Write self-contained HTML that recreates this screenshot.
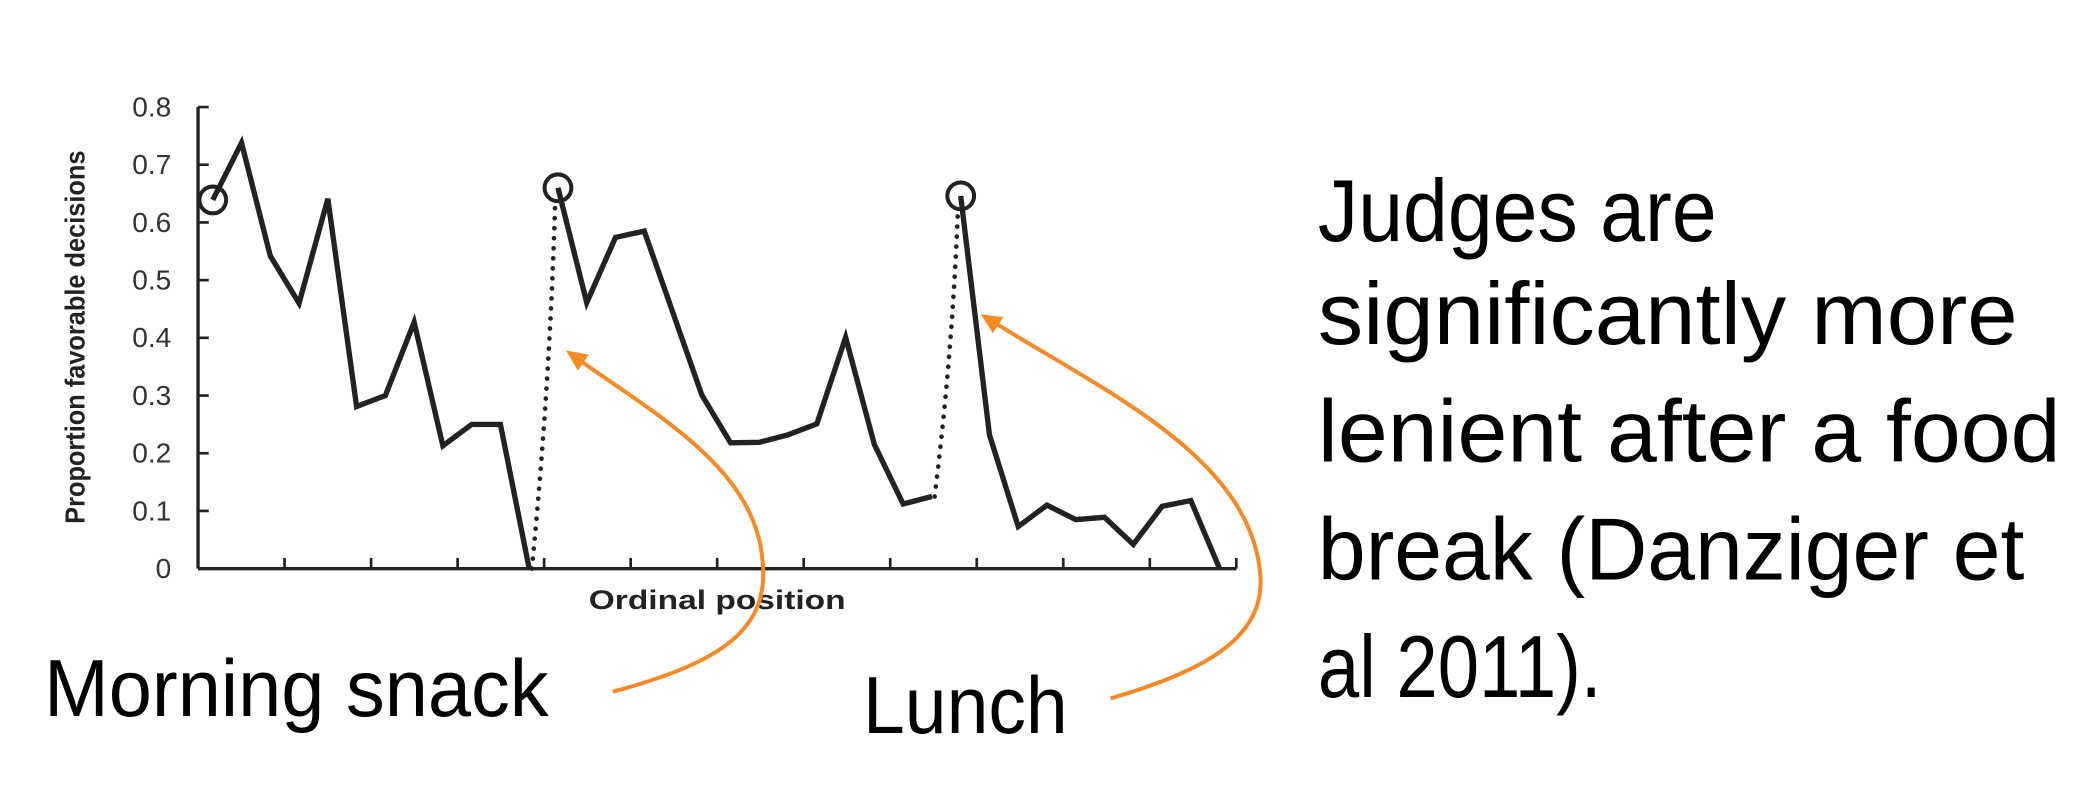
<!DOCTYPE html>
<html><head><meta charset="utf-8"><style>
html,body{margin:0;padding:0;background:#fff;}
svg{display:block;}
</style></head><body>
<svg id="chart" xmlns="http://www.w3.org/2000/svg" width="2098" height="806" viewBox="0 0 1568 602.4">
<rect x="0" y="0" width="1568" height="602.4" fill="#fff"/>
<g id="axes"></g>
<g id="series"></g>
<path d="M458,517 C540,495 575,470 570,420 C565,350 490,310 430,267" fill="none" stroke="#f58a26" stroke-width="3"/>
<polygon points="423,262 440,265 432,277" fill="#f58a26"/>
<path d="M830,522 C905,500 945,475 942,430 C935,340 820,290 740,239" fill="none" stroke="#f58a26" stroke-width="3"/>
<polygon points="733,235 750,237 742,249" fill="#f58a26"/>
<text x="33" y="535" font-family="Liberation Sans, sans-serif" font-size="60" textLength="377" lengthAdjust="spacingAndGlyphs">Morning snack</text>
<text x="645" y="548" font-family="Liberation Sans, sans-serif" font-size="60" textLength="153" lengthAdjust="spacingAndGlyphs">Lunch</text>
<g font-family="Liberation Sans, sans-serif" font-size="66">
<text x="985" y="180" textLength="298" lengthAdjust="spacingAndGlyphs">Judges are</text>
<text x="985" y="257" textLength="523" lengthAdjust="spacingAndGlyphs">significantly more</text>
<text x="985" y="345" textLength="555" lengthAdjust="spacingAndGlyphs">lenient after a food</text>
<text x="985" y="433" textLength="528" lengthAdjust="spacingAndGlyphs">break (Danziger et</text>
<text x="985" y="521" textLength="212" lengthAdjust="spacingAndGlyphs">al 2011).</text>
</g>
</svg>
<script>
const yTicks = [0, 0.1, 0.2, 0.3, 0.4, 0.5, 0.6, 0.7, 0.8];
const yTickLabels = ["0", "0.1", "0.2", "0.3", "0.4", "0.5", "0.6", "0.7", "0.8"];
const xTickCount = 12;
const session1Index = [0,1,2,3,4,5,6,7,8,9,10,11];
const session1Values = [0.639,0.738,0.542,0.46,0.641,0.281,0.30,0.427,0.213,0.25,0.25,0];
const session2Index = [12,13,14,15,16,17,18,19,20,21,22,23,24,25];
const session2Values = [0.66,0.461,0.574,0.585,0.443,0.301,0.218,0.219,0.232,0.251,0.401,0.215,0.112,0.125];
const session3Index = [26,27,28,29,30,31,32,33,34,35];
const session3Values = [0.646,0.232,0.073,0.11,0.085,0.089,0.042,0.108,0.118,0];

const NS = "http://www.w3.org/2000/svg";
const X0 = 148, XEND = 924, Y0 = 425, YTOP = 80;
function xPos(i){ return 159 + i * 21.5; }
function yPos(v){ return Y0 - v / 0.8 * (Y0 - YTOP); }
function mk(tag, attrs, parent){
  const e = document.createElementNS(NS, tag);
  for (const k in attrs) e.setAttribute(k, attrs[k]);
  parent.appendChild(e);
  return e;
}
const axes = document.getElementById('axes');
const series = document.getElementById('series');

let e = mk('line', {x1:X0, y1:YTOP, x2:X0, y2:Y0, stroke:'#222', 'stroke-width':2.5}, axes);


e = mk('line', {x1:X0, y1:Y0, x2:XEND, y2:Y0, stroke:'#222', 'stroke-width':2.5}, axes);



yTicks.forEach((t, k) => {
  const y = yPos(t);
  const tk = mk('line', {x1:X0, y1:y, x2:X0+8, y2:y, stroke:'#222', 'stroke-width':2}, axes);
  
  
  const lb = mk('text', {x:128, y:y+7, 'text-anchor':'end', 'font-family':'Liberation Sans, sans-serif', 'font-size':21, fill:'#333'}, axes);
  lb.textContent = yTickLabels[k];
  
  
});
for (let k = 1; k <= xTickCount; k++) {
  const x = X0 + k * (XEND - X0) / xTickCount;
  const tk = mk('line', {x1:x, y1:Y0, x2:x, y2:Y0-8, stroke:'#222', 'stroke-width':2}, axes);
  
  
}
let t = mk('text', {x:536, y:455, 'text-anchor':'middle', 'font-family':'Liberation Sans, sans-serif', 'font-size':20, 'font-weight':'bold', fill:'#222', textLength:192, lengthAdjust:'spacingAndGlyphs'}, axes);
t.textContent = 'Ordinal position';


t = mk('text', {x:0, y:0, transform:'translate(63,252) rotate(-90)', 'text-anchor':'middle', 'font-family':'Liberation Sans, sans-serif', 'font-size':21, 'font-weight':'bold', fill:'#222', textLength:279, lengthAdjust:'spacingAndGlyphs'}, axes);
t.textContent = 'Proportion favorable decisions';



function drawSession(idx, vals, name){
  const pts = idx.map((i, k) => xPos(i) + ',' + yPos(vals[k])).join(' ');
  const pl = mk('polyline', {points:pts, fill:'none', stroke:'#222', 'stroke-width':4, 'stroke-linejoin':'miter'}, series);
  
  
  const c = mk('circle', {cx:xPos(idx[0]), cy:yPos(vals[0]), r:10, fill:'none', stroke:'#222', 'stroke-width':3}, series);
  
  
}
function drawBreak(i1, v1, i2, v2, name){
  const x1 = xPos(i1) + 2, y1 = yPos(v1), x2 = xPos(i2) - 2, y2 = yPos(v2) + 8;
  const d = 'M' + x1 + ',' + y1 + ' Q' + (x2 - 4) + ',' + ((y1 + y2) / 2) + ' ' + x2 + ',' + y2;
  const p = mk('path', {d:d, fill:'none', stroke:'#222', 'stroke-width':3.5, 'stroke-dasharray':'0 7.5', 'stroke-linecap':'round'}, series);
  
  
}
drawBreak(session1Index[session1Index.length-1], session1Values[session1Values.length-1], session2Index[0], session2Values[0], 'morning-break-dotted');
drawBreak(session2Index[session2Index.length-1], session2Values[session2Values.length-1], session3Index[0], session3Values[0], 'lunch-break-dotted');
drawSession(session1Index, session1Values, 'session-1-line');
drawSession(session2Index, session2Values, 'session-2-line');
drawSession(session3Index, session3Values, 'session-3-line');
</script>
</body></html>
